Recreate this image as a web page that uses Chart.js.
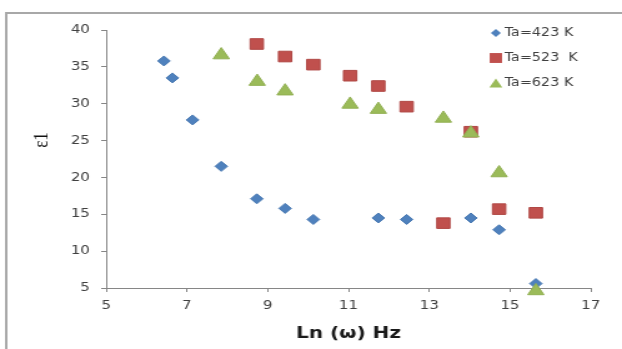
<!DOCTYPE html>
<html>
<head>
<meta charset="utf-8">
<script src="https://cdn.jsdelivr.net/npm/chart.js@4/dist/chart.umd.min.js"></script>
<style>
  html,body{margin:0;padding:0;background:#fff;overflow:hidden;}
  #wrap{width:498px;height:349px;transform:scaleX(1.249);transform-origin:0 0;}
  canvas{display:block;}
</style>
</head>
<body>
<div id="wrap"><canvas id="c" width="498" height="349"></canvas></div>
<script>
// ---- data ----
const seriesNames = ['Ta=423 K', 'Ta=523  K', 'Ta=623 K'];
const lnOmega423 = [6.43, 6.64, 7.14, 7.85, 8.73, 9.43, 10.13, 11.74, 12.44, 14.03, 14.73, 15.64];
const eps423     = [35.8, 33.5, 27.8, 21.5, 17.1, 15.8, 14.3, 14.5, 14.3, 14.5, 12.9, 5.6];
const lnOmega523 = [8.73, 9.43, 10.13, 11.04, 11.74, 12.44, 13.35, 14.03, 14.73, 15.64];
const eps523     = [38.1, 36.4, 35.3, 33.8, 32.4, 29.6, 13.8, 26.2, 15.7, 15.2];
const lnOmega623 = [7.85, 8.74, 9.43, 11.04, 11.74, 13.35, 14.03, 14.73, 15.64];
const eps623     = [36.6, 33.0, 31.7, 29.9, 29.2, 28.0, 26.0, 20.6, 4.6];
const xTickValues = [5, 7, 9, 11, 13, 15, 17];
const yTickValues = [5, 10, 15, 20, 25, 30, 35, 40];
const xTitle = 'Ln (ω) Hz';
const yTitle = 'ε1';

const colors = ['#4F81BD', '#C0504D', '#9BBB59'];
const borders = ['#4A7AB3', '#B04845', '#92B053'];
const shapes = ['rectRot', 'rect', 'triangle'];
const radii = [5, 7.5, 7.5];

function pts(xs, ys) { return xs.map((x, i) => ({x: x, y: ys[i]})); }
const allX = [lnOmega423, lnOmega523, lnOmega623];
const allY = [eps423, eps523, eps623];

const datasets = seriesNames.map((name, i) => ({
  label: name,
  data: pts(allX[i], allY[i]),
  backgroundColor: colors[i],
  borderColor: borders[i],
  borderWidth: 1,
  pointStyle: shapes[i],
  pointRadius: radii[i],
  pointHoverRadius: radii[i],
  showLine: false,
  clip: false,
  order: 3 - i
}));

const tickFont = {family: "'DejaVu Sans', sans-serif", size: 12};
const tickColor = '#404040';
const axisColor = '#868686';

const framePlugin = {
  id: 'frame',
  beforeDraw(chart) {
    const ctx = chart.ctx;
    ctx.save();
    ctx.fillStyle = '#fff';
    ctx.fillRect(0, 0, chart.width, chart.height);
    ctx.strokeStyle = '#a8a8a8';
    ctx.lineWidth = 2;
    ctx.beginPath();
    ctx.moveTo(chart.width, 13);
    ctx.lineTo(5, 13);
    ctx.lineTo(5, chart.height);
    ctx.stroke();
    ctx.restore();
  }
};

function drawMarker(ctx, shape, x, y, r) {
  ctx.beginPath();
  if (shape === 'rectRot') {
    ctx.moveTo(x - r, y); ctx.lineTo(x, y - r); ctx.lineTo(x + r, y); ctx.lineTo(x, y + r);
  } else if (shape === 'rect') {
    const s = r * Math.SQRT1_2;
    ctx.rect(x - s, y - s, 2 * s, 2 * s);
  } else {
    ctx.moveTo(x, y - r);
    ctx.lineTo(x + r * Math.sin(Math.PI / 3), y + r / 2);
    ctx.lineTo(x - r * Math.sin(Math.PI / 3), y + r / 2);
  }
  ctx.closePath();
  ctx.fill();
}

const legendPlugin = {
  id: 'customLegend',
  afterDraw(chart) {
    const ctx = chart.ctx;
    ctx.save();
    const rows = [33, 58, 83];
    const lr = [4, 7, 6];
    seriesNames.forEach((name, i) => {
      ctx.fillStyle = colors[i];
      const yy = rows[i] + (shapes[i] === 'triangle' ? 1.5 : 0);
      drawMarker(ctx, shapes[i], 397, yy, lr[i]);
      ctx.fillStyle = '#404040';
      ctx.font = "11.5px 'DejaVu Sans', sans-serif";
      ctx.textBaseline = 'middle';
      ctx.textAlign = 'left';
      ctx.fillText(name, 404, rows[i]);
    });
    // y axis title
    ctx.translate(34, 140);
    ctx.rotate(-Math.PI / 2);
    ctx.fillStyle = '#111';
    ctx.font = "17px 'Liberation Serif', serif";
    ctx.textAlign = 'center';
    ctx.textBaseline = 'middle';
    ctx.fillText(yTitle, 0, 0);
    ctx.restore();
  }
};

new Chart(document.getElementById('c'), {
  type: 'scatter',
  data: {datasets: datasets},
  options: {
    responsive: false,
    devicePixelRatio: 1,
    animation: false,
    layout: {padding: {left: 0, right: 25, top: 30, bottom: 0}},
    plugins: {legend: {display: false}, tooltip: {enabled: false}},
    scales: {
      x: {
        type: 'linear',
        min: xTickValues[0],
        max: xTickValues[xTickValues.length - 1],
        afterBuildTicks: s => { s.ticks = xTickValues.map(v => ({value: v})); },
        afterFit: s => { s.height = 61; },
        ticks: {font: tickFont, color: tickColor, padding: 7},
        grid: {drawOnChartArea: false, drawTicks: true, tickLength: 4, color: axisColor},
        border: {color: axisColor, width: 1},
        title: {display: true, text: xTitle, color: '#1a1a1a',
                font: {family: "'DejaVu Sans', sans-serif", size: 16, weight: 'bold'},
                padding: {top: 0, bottom: 6}}
      },
      y: {
        type: 'linear',
        min: yTickValues[0],
        max: yTickValues[yTickValues.length - 1],
        afterBuildTicks: s => { s.ticks = yTickValues.map(v => ({value: v})); },
        afterFit: s => { s.width = 85; },
        ticks: {font: tickFont, color: tickColor, padding: 9},
        grid: {drawOnChartArea: false, drawTicks: true, tickLength: 4, color: axisColor},
        border: {color: axisColor, width: 1}
      }
    }
  },
  plugins: [framePlugin, legendPlugin]
});
</script>
</body>
</html>
